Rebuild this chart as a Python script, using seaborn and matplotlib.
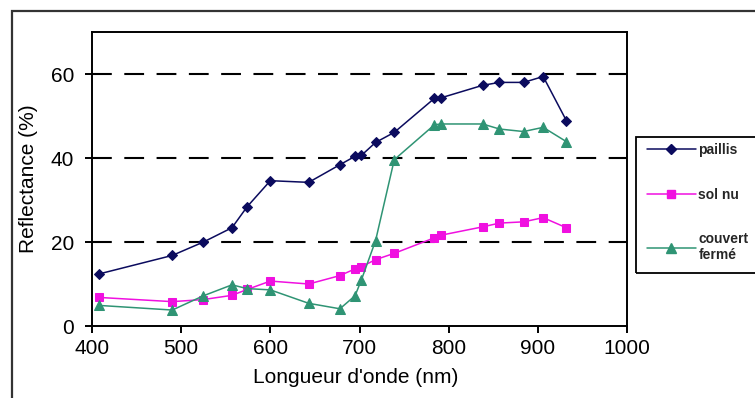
import matplotlib
matplotlib.use("Agg")
import matplotlib.pyplot as plt
from matplotlib.patches import Rectangle
from matplotlib.lines import Line2D
import seaborn as sns
import pandas as pd

# Wavelengths (nm) of the measured bands
wavelength = [408, 490, 525, 557, 574, 600, 643, 678, 695, 702,
              718, 739, 784, 791, 838, 857, 884, 906, 932]

# Reflectance (%) for each surface type
paillis = [12.4, 16.8, 20.0, 23.4, 28.4, 34.6, 34.2, 38.4, 40.4, 40.6,
           43.7, 46.1, 54.2, 54.3, 57.3, 58.0, 58.0, 59.4, 48.9]
sol_nu = [6.8, 5.8, 6.3, 7.3, 8.7, 10.7, 10.0, 12.0, 13.6, 14.1,
          15.8, 17.3, 21.0, 21.6, 23.6, 24.5, 24.8, 25.8, 23.4]
couvert_ferme = [4.9, 3.8, 7.2, 9.8, 8.9, 8.6, 5.4, 4.1, 7.2, 10.9,
                 20.3, 39.6, 47.9, 48.1, 48.1, 46.9, 46.3, 47.3, 43.9]

series_names = ["paillis", "sol nu", "couvert\nfermé"]
series_values = [paillis, sol_nu, couvert_ferme]
colors = ["#0b0b5e", "#f010e0", "#2f9474"]
markers = ["D", "s", "^"]
marker_sizes = [5.5, 5.5, 6.5]

x_ticks = [400, 500, 600, 700, 800, 900, 1000]
y_ticks = [0, 20, 40, 60]

rows = []
for name, vals in zip(series_names, series_values):
    for w, v in zip(wavelength, vals):
        rows.append({"Longueur d'onde (nm)": w, "Reflectance (%)": v, "surface": name})
df = pd.DataFrame(rows)

sns.set_theme(style="white")
plt.rcParams["font.family"] = ["Liberation Sans", "DejaVu Sans"]

W, H = 755, 398
fig = plt.figure(figsize=(W / 100, H / 100), dpi=100)
fig.patch.set_facecolor("white")

L, R, T, B = 92, 627, 32, 326
ax = fig.add_axes([L / W, 1 - B / H, (R - L) / W, (B - T) / H])
ax.set_facecolor("white")

# horizontal dashed reference lines
for yv in y_ticks[1:]:
    ax.axhline(yv, color="black", lw=1.5, linestyle=(0, (9.5, 6.0)), zorder=1)

for name, col, mk, ms in zip(series_names, colors, markers, marker_sizes):
    sub = df[df["surface"] == name]
    sns.lineplot(data=sub, x="Longueur d'onde (nm)", y="Reflectance (%)",
                 color=col, marker=mk, markersize=ms, markeredgecolor=col,
                 linewidth=1.1, ax=ax, zorder=3, legend=False, sort=False)

ax.set_xlim(400, 1000)
ax.set_ylim(0, 70)
ax.set_xticks(x_ticks)
ax.set_yticks(y_ticks)
ax.tick_params(axis="both", direction="out", length=5, width=1.4, color="black",
               labelsize=15, labelcolor="black")
ax.tick_params(axis="y", pad=8)
ax.tick_params(axis="x", pad=4)
ax.tick_params(bottom=True, left=True)
for sp in ax.spines.values():
    sp.set_visible(True)
    sp.set_color("black")
    sp.set_linewidth(1.4)

ax.set_xlabel("Longueur d'onde (nm)", fontsize=15, color="black")
ax.set_ylabel("Reflectance (%)", fontsize=15, color="black")
ax.xaxis.set_label_coords(0.493, -0.143)
ax.yaxis.set_label_coords(-0.101, 0.5)

# legend entries
handles = [Line2D([], [], color=c, marker=m, markersize=s, markeredgecolor=c, lw=1.1)
           for c, m, s in zip(colors, markers, marker_sizes)]
ax.legend(handles, series_names, loc="upper left",
          bbox_to_anchor=(647 / W, 1 - 143 / H), bbox_transform=fig.transFigure,
          frameon=False, borderpad=0, borderaxespad=0, handlelength=3.5,
          handletextpad=0.2, labelspacing=2.2,
          prop={"size": 10, "weight": "bold"})

# legend box and chart frame
fig.patches.append(Rectangle((636 / W, 1 - 273 / H), 140 / W, 136 / H,
                             transform=fig.transFigure, fill=False,
                             edgecolor="black", lw=1.3))
fig.patches.append(Rectangle((12 / W, -0.1), 1.0, 1 - 11 / H + 0.1,
                             transform=fig.transFigure, fill=False,
                             edgecolor="#333333", lw=1.6))

fig.savefig("out.png", dpi=100, facecolor="white")
